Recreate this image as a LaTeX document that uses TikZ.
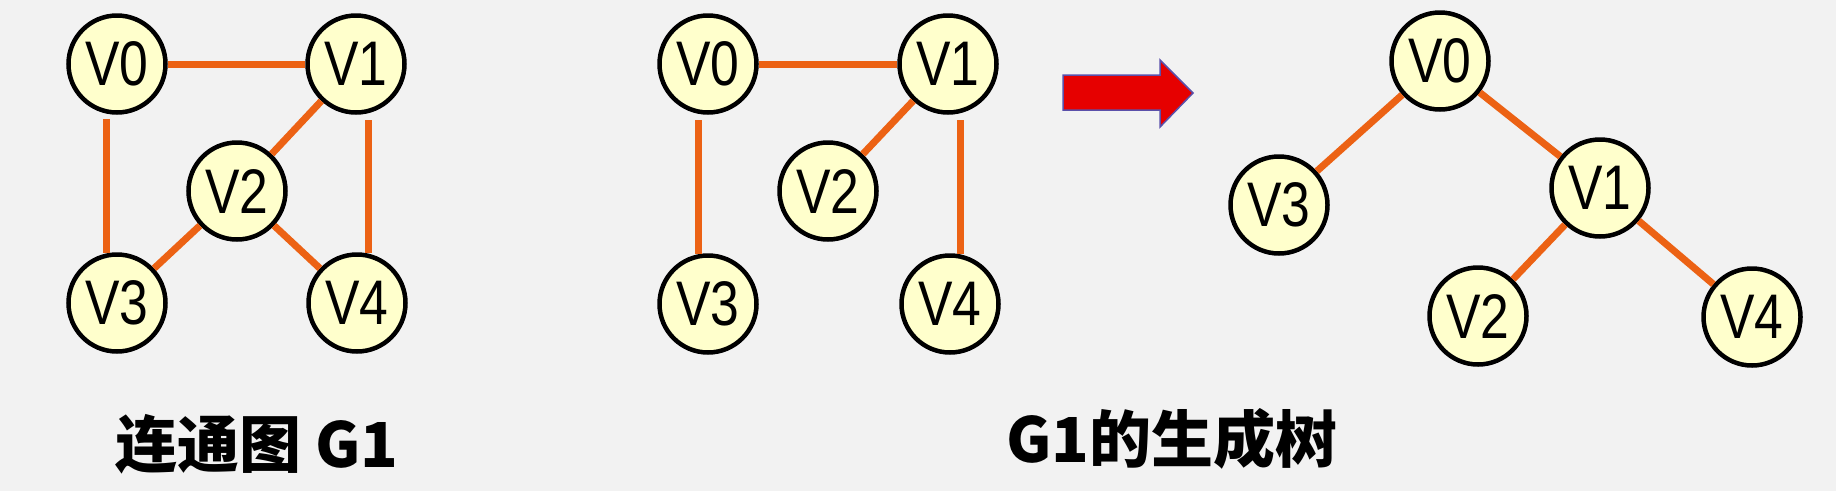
\documentclass[tikz,border=0pt]{standalone}
\usepackage{fontspec}
\newfontfamily\nodefont[FakeStretch=0.82]{Liberation Sans}
\newfontfamily\cjk{Noto Sans CJK SC}
\usetikzlibrary{calc}
\definecolor{bg}{RGB}{242,242,242}
\definecolor{edgeor}{RGB}{236,98,20}
\definecolor{nodefill}{RGB}{255,255,204}
\definecolor{arrred}{RGB}{230,0,0}
\definecolor{arrblue}{RGB}{90,80,170}
\begin{document}
\begin{tikzpicture}[x=1pt,y=-1pt,
  vnode/.style={circle,draw=black,line width=4.5pt,fill=nodefill,minimum size=97pt,inner sep=0pt,
    font=\nodefont\fontsize{63}{63}\selectfont},
  edge/.style={draw=edgeor,line width=7pt},
  caption/.style={font=\cjk\bfseries\fontsize{62}{62}\selectfont,inner sep=0pt,anchor=base}]
\fill[bg] (0,0) rectangle (1836,491);
\useasboundingbox (0,0) rectangle (1836,491);

% Graph G1
\node[vnode] (a0) at (117,64) {V0};
\node[vnode] (a1) at (356,64) {V1};
\node[vnode] (a2) at (237,191) {V2};
\node[vnode] (a3) at (117,303) {V3};
\node[vnode] (a4) at (357,303) {V4};
\draw[edge] (a0) -- (a1);
\draw[edge] (a1) -- (a2);
\draw[edge] (a2) -- (a3);
\draw[edge] (a2) -- (a4);
\draw[edge] ($(a0.center)+(-11,55)$) -- ($(a3.center)+(-11,-50)$);
\draw[edge] ($(a1.center)+(12,56)$) -- ($(a4.center)+(11,-50)$);

% Spanning subgraph
\node[vnode] (b0) at (708,64) {V0};
\node[vnode] (b1) at (948,64) {V1};
\node[vnode] (b2) at (828,191) {V2};
\node[vnode] (b3) at (708,304) {V3};
\node[vnode] (b4) at (950,304) {V4};
\draw[edge] (b0) -- (b1);
\draw[edge] (b1) -- (b2);
\draw[edge] ($(b0.center)+(-10,56)$) -- ($(b3.center)+(-10,-50)$);
\draw[edge] ($(b1.center)+(12,56)$) -- ($(b4.center)+(10,-50)$);

% Arrow
\draw[arrblue,line width=1.5pt,fill=arrred,line join=miter]
  (1063,75) -- (1160,75) -- (1160,60) -- (1193,93) -- (1160,127) -- (1160,110) -- (1063,110) -- cycle;

% Tree
\node[vnode] (c0) at (1440,61) {V0};
\node[vnode] (c1) at (1600,188) {V1};
\node[vnode] (c2) at (1478,316) {V2};
\node[vnode] (c3) at (1279,205) {V3};
\node[vnode] (c4) at (1752,317) {V4};
\draw[edge] (c0) -- (c3);
\draw[edge] (c0) -- (c1);
\draw[edge] (c1) -- (c2);
\draw[edge] (c1) -- (c4);

% Captions
\node[caption] (t1) at (257,467) {连通图 G1};
\node[caption] (t2) at (1172,462) {G1的生成树};
\end{tikzpicture}
\end{document}
